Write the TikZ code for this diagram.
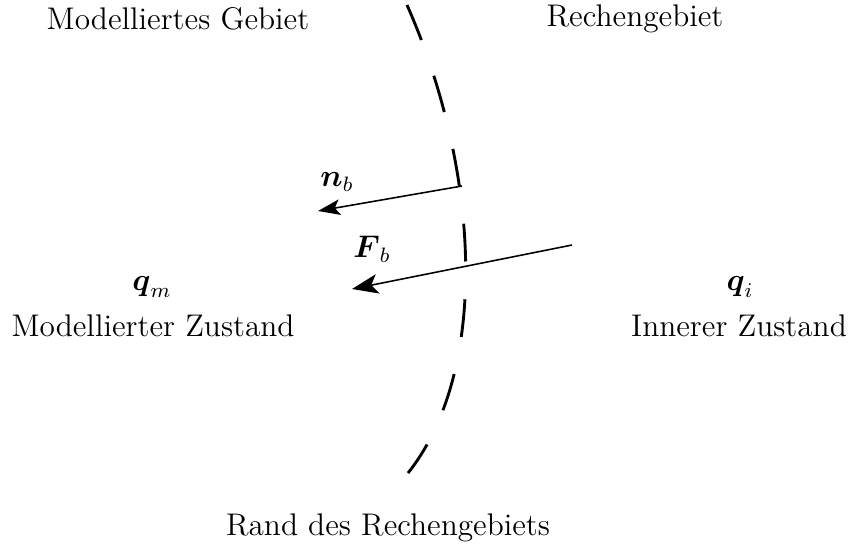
\documentclass[tikz,border=0pt,12pt]{standalone}
\usepackage{amsmath,amssymb}
\usetikzlibrary{arrows.meta}

\tikzset{
  pfeil/.style={line width=0.6pt, -{Stealth[length=8.5pt,width=6pt,inset=2pt]}},
  grosspfeil/.style={line width=0.6pt, -{Stealth[length=10pt,width=7.5pt,inset=2.5pt]}},
  rand/.style={line width=1.1pt, dash pattern=on 14.5pt off 14.5pt},
}

\begin{document}
\begin{tikzpicture}[x=0.01347cm, y=-0.01347cm]
\useasboundingbox (0,0) rectangle (848,552);
% Rand
\draw [rand] (407,5) .. controls (480,170) and (490,370) .. (408,473);
% Vektoren
\coordinate (nb0) at (462,186);
\coordinate (nb1) at (318,211);
\coordinate (fb0) at (572,245);
\coordinate (fb1) at (352,289);
\draw [pfeil] (nb0)--(nb1);
\draw [grosspfeil] (fb0)--(fb1);
\draw (337,182) node (nb) {$\boldsymbol{n}_b$};
\draw (372,249) node (fb) {$\boldsymbol{F}_b$};
% Gebiete
\draw (178,19) node (modgeb) {Modelliertes Gebiet};
\draw (635,19) node (rechgeb) {Rechengebiet};
\draw (152,287) node (qm) {$\boldsymbol{q}_m$};
\draw (153,326) node (modzust) {Modellierter Zustand};
\draw (740,287) node (qi) {$\boldsymbol{q}_i$};
\draw (739,326) node (innzust) {Innerer Zustand};
\draw (388,528) node (randtxt) {Rand des Rechengebiets};
\end{tikzpicture}
\end{document}
